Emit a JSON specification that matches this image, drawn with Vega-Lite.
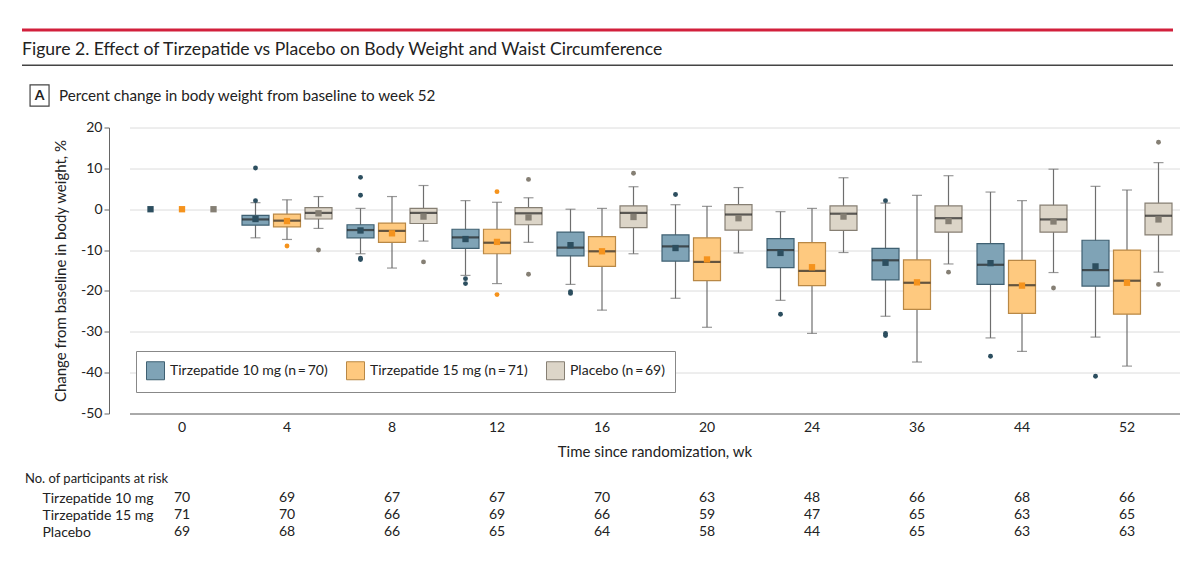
{
  "$schema": "https://vega.github.io/schema/vega-lite/v6.json",
  "background": "white",
  "padding": {"left": 20, "top": 27.5, "right": 10, "bottom": 10},
  "spacing": 13,
  "datasets": {
    "header": [
      {"figure": "Figure 2. Effect of Tirzepatide vs Placebo on Body Weight and Waist Circumference", "panel": "A", "caption": "Percent change in body weight from baseline to week 52"}
    ],
    "stats": [
      {"week": 0, "group": "Tirzepatide 10 mg", "lo": null, "q1": null, "median": null, "q3": null, "hi": null, "mean": 0},
      {"week": 0, "group": "Tirzepatide 15 mg", "lo": null, "q1": null, "median": null, "q3": null, "hi": null, "mean": 0},
      {"week": 0, "group": "Placebo", "lo": null, "q1": null, "median": null, "q3": null, "hi": null, "mean": 0},
      {"week": 4, "group": "Tirzepatide 10 mg", "lo": -7.0, "q1": -3.9, "median": -2.5, "q3": -1.5, "hi": 1.6, "mean": -2.4},
      {"week": 4, "group": "Tirzepatide 15 mg", "lo": -7.4, "q1": -4.3, "median": -2.8, "q3": -1.2, "hi": 2.3, "mean": -2.9},
      {"week": 4, "group": "Placebo", "lo": -4.7, "q1": -2.4, "median": -0.9, "q3": 0.4, "hi": 3.1, "mean": -1.0},
      {"week": 8, "group": "Tirzepatide 10 mg", "lo": -10.9, "q1": -7.0, "median": -5.1, "q3": -3.8, "hi": 0.2, "mean": -5.2},
      {"week": 8, "group": "Tirzepatide 15 mg", "lo": -14.4, "q1": -8.1, "median": -5.3, "q3": -3.4, "hi": 3.1, "mean": -5.9},
      {"week": 8, "group": "Placebo", "lo": -7.8, "q1": -3.5, "median": -0.9, "q3": 0.2, "hi": 5.8, "mean": -1.8},
      {"week": 12, "group": "Tirzepatide 10 mg", "lo": -16.2, "q1": -9.6, "median": -6.9, "q3": -4.9, "hi": 2.1, "mean": -7.3},
      {"week": 12, "group": "Tirzepatide 15 mg", "lo": -18.2, "q1": -10.9, "median": -8.2, "q3": -4.9, "hi": 1.7, "mean": -8.0},
      {"week": 12, "group": "Placebo", "lo": -8.1, "q1": -3.8, "median": -1.0, "q3": 0.4, "hi": 2.8, "mean": -2.0},
      {"week": 16, "group": "Tirzepatide 10 mg", "lo": -18.4, "q1": -11.4, "median": -9.4, "q3": -5.6, "hi": 0.0, "mean": -8.8},
      {"week": 16, "group": "Tirzepatide 15 mg", "lo": -24.7, "q1": -14.0, "median": -10.3, "q3": -6.7, "hi": 0.2, "mean": -10.3},
      {"week": 16, "group": "Placebo", "lo": -10.9, "q1": -4.5, "median": -0.9, "q3": 0.8, "hi": 5.5, "mean": -1.9},
      {"week": 20, "group": "Tirzepatide 10 mg", "lo": -21.8, "q1": -12.7, "median": -9.1, "q3": -6.3, "hi": 1.1, "mean": -9.5},
      {"week": 20, "group": "Tirzepatide 15 mg", "lo": -28.9, "q1": -17.5, "median": -12.9, "q3": -7.0, "hi": 0.7, "mean": -12.3},
      {"week": 20, "group": "Placebo", "lo": -10.7, "q1": -5.1, "median": -1.3, "q3": 1.1, "hi": 5.3, "mean": -2.2},
      {"week": 24, "group": "Tirzepatide 10 mg", "lo": -22.3, "q1": -14.3, "median": -10.0, "q3": -7.2, "hi": -0.6, "mean": -10.7},
      {"week": 24, "group": "Tirzepatide 15 mg", "lo": -30.4, "q1": -18.7, "median": -15.1, "q3": -8.2, "hi": 0.2, "mean": -14.2},
      {"week": 24, "group": "Placebo", "lo": -10.6, "q1": -5.2, "median": -1.1, "q3": 0.8, "hi": 7.7, "mean": -1.8},
      {"week": 36, "group": "Tirzepatide 10 mg", "lo": -26.2, "q1": -17.3, "median": -12.5, "q3": -9.6, "hi": 1.5, "mean": -13.1},
      {"week": 36, "group": "Tirzepatide 15 mg", "lo": -37.4, "q1": -24.5, "median": -18.0, "q3": -12.4, "hi": 3.4, "mean": -17.9},
      {"week": 36, "group": "Placebo", "lo": -13.4, "q1": -5.6, "median": -2.2, "q3": 0.8, "hi": 8.2, "mean": -2.9},
      {"week": 44, "group": "Tirzepatide 10 mg", "lo": -31.5, "q1": -18.4, "median": -13.6, "q3": -8.4, "hi": 4.2, "mean": -13.2},
      {"week": 44, "group": "Tirzepatide 15 mg", "lo": -34.8, "q1": -25.5, "median": -18.6, "q3": -12.5, "hi": 2.1, "mean": -18.7},
      {"week": 44, "group": "Placebo", "lo": -15.5, "q1": -5.6, "median": -2.5, "q3": 1.0, "hi": 9.8, "mean": -3.0},
      {"week": 52, "group": "Tirzepatide 10 mg", "lo": -31.3, "q1": -18.8, "median": -14.9, "q3": -7.6, "hi": 5.6, "mean": -14.0},
      {"week": 52, "group": "Tirzepatide 15 mg", "lo": -38.4, "q1": -25.7, "median": -17.5, "q3": -10.0, "hi": 4.7, "mean": -18.0},
      {"week": 52, "group": "Placebo", "lo": -15.4, "q1": -6.3, "median": -1.6, "q3": 1.5, "hi": 11.4, "mean": -2.5}
    ],
    "outliers": [
      {"week": 4, "group": "Tirzepatide 10 mg", "value": 10.1},
      {"week": 4, "group": "Tirzepatide 10 mg", "value": 2.1},
      {"week": 4, "group": "Tirzepatide 15 mg", "value": -9.0},
      {"week": 4, "group": "Placebo", "value": -10.0},
      {"week": 8, "group": "Tirzepatide 10 mg", "value": 7.8},
      {"week": 8, "group": "Tirzepatide 10 mg", "value": 3.4},
      {"week": 8, "group": "Tirzepatide 10 mg", "value": -12.0},
      {"week": 8, "group": "Tirzepatide 10 mg", "value": -12.3},
      {"week": 8, "group": "Placebo", "value": -12.9},
      {"week": 12, "group": "Tirzepatide 10 mg", "value": -17.0},
      {"week": 12, "group": "Tirzepatide 10 mg", "value": -18.2},
      {"week": 12, "group": "Tirzepatide 15 mg", "value": 4.3},
      {"week": 12, "group": "Tirzepatide 15 mg", "value": -20.9},
      {"week": 12, "group": "Placebo", "value": 7.3},
      {"week": 12, "group": "Placebo", "value": -15.9},
      {"week": 16, "group": "Tirzepatide 10 mg", "value": -20.2},
      {"week": 16, "group": "Tirzepatide 10 mg", "value": -20.6},
      {"week": 16, "group": "Placebo", "value": 8.8},
      {"week": 20, "group": "Tirzepatide 10 mg", "value": 3.6},
      {"week": 24, "group": "Tirzepatide 10 mg", "value": -25.7},
      {"week": 36, "group": "Tirzepatide 10 mg", "value": 2.1},
      {"week": 36, "group": "Tirzepatide 10 mg", "value": -30.4},
      {"week": 36, "group": "Tirzepatide 10 mg", "value": -30.9},
      {"week": 36, "group": "Placebo", "value": -15.4},
      {"week": 44, "group": "Tirzepatide 10 mg", "value": -36.0},
      {"week": 44, "group": "Placebo", "value": -19.3},
      {"week": 52, "group": "Tirzepatide 10 mg", "value": -40.9},
      {"week": 52, "group": "Placebo", "value": 16.4},
      {"week": 52, "group": "Placebo", "value": -18.4}
    ],
    "atrisk": [
      {"week": 0, "group": "Tirzepatide 10 mg", "n": 70},
      {"week": 4, "group": "Tirzepatide 10 mg", "n": 69},
      {"week": 8, "group": "Tirzepatide 10 mg", "n": 67},
      {"week": 12, "group": "Tirzepatide 10 mg", "n": 67},
      {"week": 16, "group": "Tirzepatide 10 mg", "n": 70},
      {"week": 20, "group": "Tirzepatide 10 mg", "n": 63},
      {"week": 24, "group": "Tirzepatide 10 mg", "n": 48},
      {"week": 36, "group": "Tirzepatide 10 mg", "n": 66},
      {"week": 44, "group": "Tirzepatide 10 mg", "n": 68},
      {"week": 52, "group": "Tirzepatide 10 mg", "n": 66},
      {"week": 0, "group": "Tirzepatide 15 mg", "n": 71},
      {"week": 4, "group": "Tirzepatide 15 mg", "n": 70},
      {"week": 8, "group": "Tirzepatide 15 mg", "n": 66},
      {"week": 12, "group": "Tirzepatide 15 mg", "n": 69},
      {"week": 16, "group": "Tirzepatide 15 mg", "n": 66},
      {"week": 20, "group": "Tirzepatide 15 mg", "n": 59},
      {"week": 24, "group": "Tirzepatide 15 mg", "n": 47},
      {"week": 36, "group": "Tirzepatide 15 mg", "n": 65},
      {"week": 44, "group": "Tirzepatide 15 mg", "n": 63},
      {"week": 52, "group": "Tirzepatide 15 mg", "n": 65},
      {"week": 0, "group": "Placebo", "n": 69},
      {"week": 4, "group": "Placebo", "n": 68},
      {"week": 8, "group": "Placebo", "n": 66},
      {"week": 12, "group": "Placebo", "n": 65},
      {"week": 16, "group": "Placebo", "n": 64},
      {"week": 20, "group": "Placebo", "n": 58},
      {"week": 24, "group": "Placebo", "n": 44},
      {"week": 36, "group": "Placebo", "n": 65},
      {"week": 44, "group": "Placebo", "n": 63},
      {"week": 52, "group": "Placebo", "n": 63}
    ]
  },
  "vconcat": [
    {
      "width": 1065,
      "height": 78,
      "data": {"name": "header"},
      "layer": [
        {
          "mark": {"type": "rule", "color": "#d2203c", "strokeWidth": 3},
          "encoding": {
            "x": {"datum": 0, "type": "quantitative", "scale": {"domain": [0, 100], "range": [-87, 1064]}, "axis": null},
            "x2": {"datum": 100},
            "y": {"datum": 1.9, "type": "quantitative", "scale": {"domain": [0, 100], "range": [0, 78]}, "axis": null}
          }
        },
        {
          "mark": {"type": "text", "align": "left", "baseline": "alphabetic", "fontSize": 17.6, "color": "#222"},
          "encoding": {
            "x": {"datum": 0, "type": "quantitative"},
            "y": {"datum": 34, "type": "quantitative"},
            "text": {"field": "figure"}
          }
        },
        {
          "mark": {"type": "rule", "color": "#444", "strokeWidth": 1.5},
          "encoding": {
            "x": {"datum": 0, "type": "quantitative"},
            "x2": {"datum": 100},
            "y": {"datum": 47.2, "type": "quantitative"}
          }
        },
        {
          "mark": {"type": "rect", "fill": "white", "stroke": "#444", "strokeWidth": 1.2},
          "encoding": {
            "x": {"datum": 0.7, "type": "quantitative"},
            "x2": {"datum": 2.35},
            "y": {"datum": 72.4, "type": "quantitative"},
            "y2": {"datum": 99.4}
          }
        },
        {
          "mark": {"type": "text", "align": "center", "baseline": "middle", "fontSize": 14, "fontWeight": "bold", "color": "#222"},
          "encoding": {
            "x": {"datum": 1.52, "type": "quantitative"},
            "y": {"datum": 86.5, "type": "quantitative"},
            "text": {"field": "panel"}
          }
        },
        {
          "mark": {"type": "text", "align": "left", "baseline": "middle", "fontSize": 15.2, "color": "#222"},
          "encoding": {
            "x": {"datum": 3.21, "type": "quantitative"},
            "y": {"datum": 86.5, "type": "quantitative"},
            "text": {"field": "caption"}
          }
        }
      ]
    },
    {
      "width": 1065,
      "height": 286,
      "encoding": {
        "x": {
          "field": "week",
          "type": "ordinal",
          "scale": {"domain": [0, 4, 8, 12, 16, 20, 24, 36, 44, 52], "range": [20.5, 1070.5], "paddingInner": 0.1, "paddingOuter": 0.05},
          "axis": {"title": "Time since randomization, wk", "ticks": false, "labelAngle": 0, "labelPadding": 7, "labelFontSize": 14, "titleFontSize": 15, "titlePadding": 10, "titleX": 545.5, "domainColor": "#666"}
        },
        "xOffset": {
          "field": "group",
          "type": "nominal",
          "scale": {"domain": ["Tirzepatide 10 mg", "Tirzepatide 15 mg", "Placebo"], "paddingInner": 0, "paddingOuter": 0}
        }
      },
      "layer": [
        {
          "data": {"name": "stats"},
          "transform": [{"filter": "isValid(datum.q1)"}],
          "mark": {"type": "rule", "color": "#6e6e6e", "strokeWidth": 1.2},
          "encoding": {
            "y": {
              "field": "lo",
              "type": "quantitative",
              "title": "Change from baseline in body weight, %",
              "scale": {"domain": [-50, 20], "nice": false, "zero": false},
              "axis": {"values": [-50, -40, -30, -20, -10, 0, 10, 20], "tickSize": 5, "tickColor": "#666", "domainColor": "#666", "gridColor": "#dcdcdc", "labelFontSize": 14, "labelPadding": 2, "titleFontSize": 15, "titlePadding": 12, "labelExpr": "replace(datum.label, '\u2212', '-')"}
            },
            "y2": {"field": "hi"}
          }
        },
        {
          "data": {"name": "stats"},
          "transform": [{"filter": "isValid(datum.q1)"}],
          "mark": {"type": "tick", "orient": "horizontal", "size": 10, "thickness": 1.2, "color": "#6e6e6e"},
          "encoding": {"y": {"field": "lo", "type": "quantitative", "title": "Change from baseline in body weight, %"}}
        },
        {
          "data": {"name": "stats"},
          "transform": [{"filter": "isValid(datum.q1)"}],
          "mark": {"type": "tick", "orient": "horizontal", "size": 10, "thickness": 1.2, "color": "#6e6e6e"},
          "encoding": {"y": {"field": "hi", "type": "quantitative", "title": "Change from baseline in body weight, %"}}
        },
        {
          "data": {"name": "stats"},
          "transform": [{"filter": "isValid(datum.q1)"}],
          "mark": {"type": "bar", "width": 27, "strokeWidth": 1.2},
          "encoding": {
            "y": {"field": "q1", "type": "quantitative", "title": "Change from baseline in body weight, %"},
            "y2": {"field": "q3"},
            "fill": {
              "field": "group",
              "type": "nominal",
              "scale": {"domain": ["Tirzepatide 10 mg", "Tirzepatide 15 mg", "Placebo"], "range": ["#7fa3b6", "#fec97f", "#dcd5c8"]},
              "legend": {
                "title": null,
                "orient": "none",
                "legendX": 27,
                "legendY": 322.5,
                "direction": "horizontal",
                "symbolType": "square",
                "symbolSize": 324,
                "symbolStrokeWidth": 1,
                "labelFontSize": 14,
                "labelLimit": 0,
                "labelColor": "#222",
                "labelOffset": 5,
                "columnPadding": 16,
                "padding": 10,
                "strokeColor": "#888",
                "fillColor": "white",
                "labelExpr": "datum.label == 'Placebo' ? 'Placebo (n\u2009=\u200969)' : datum.label == 'Tirzepatide 10 mg' ? 'Tirzepatide 10 mg (n\u2009=\u200970)' : 'Tirzepatide 15 mg (n\u2009=\u200971)'"
              }
            },
            "stroke": {
              "field": "group",
              "type": "nominal",
              "scale": {"domain": ["Tirzepatide 10 mg", "Tirzepatide 15 mg", "Placebo"], "range": ["#3f6072", "#b98845", "#867f73"]},
              "legend": {"title": null}
            }
          }
        },
        {
          "data": {"name": "stats"},
          "transform": [{"filter": "isValid(datum.q1)"}],
          "mark": {"type": "tick", "orient": "horizontal", "size": 27, "thickness": 2.2, "color": "#222"},
          "encoding": {"y": {"field": "median", "type": "quantitative", "title": "Change from baseline in body weight, %"}}
        },
        {
          "data": {"name": "stats"},
          "mark": {"type": "point", "shape": "square", "filled": true, "size": 40, "opacity": 1},
          "encoding": {
            "y": {"field": "mean", "type": "quantitative", "title": "Change from baseline in body weight, %"},
            "color": {
              "field": "group",
              "type": "nominal",
              "scale": {"domain": ["Tirzepatide 10 mg", "Tirzepatide 15 mg", "Placebo"], "range": ["#2c4e5f", "#f5931d", "#857f74"]},
              "legend": null
            }
          }
        },
        {
          "data": {"name": "outliers"},
          "mark": {"type": "circle", "size": 24, "opacity": 1},
          "encoding": {
            "y": {"field": "value", "type": "quantitative", "title": "Change from baseline in body weight, %"},
            "color": {"field": "group", "type": "nominal", "legend": null}
          }
        }
      ]
    },
    {
      "width": 1065,
      "height": 51,
      "data": {"name": "atrisk"},
      "title": {"text": "No. of participants at risk", "anchor": "start", "fontSize": 13, "fontWeight": "normal", "color": "#222", "dx": -17, "offset": 4},
      "mark": {"type": "text", "fontSize": 14, "color": "#222", "baseline": "middle"},
      "encoding": {
        "x": {
          "field": "week",
          "type": "ordinal",
          "scale": {"domain": [0, 4, 8, 12, 16, 20, 24, 36, 44, 52], "range": [20.5, 1070.5], "paddingInner": 0.1, "paddingOuter": 0.05},
          "axis": null
        },
        "y": {
          "field": "group",
          "type": "nominal",
          "scale": {"domain": ["Tirzepatide 10 mg", "Tirzepatide 15 mg", "Placebo"], "paddingInner": 0, "paddingOuter": 0},
          "axis": {"title": null, "domain": false, "ticks": false, "tickSize": 0, "grid": false, "labelAlign": "left", "labelPadding": 67, "labelFontSize": 14, "labelColor": "#222"}
        },
        "text": {"field": "n", "type": "quantitative"}
      }
    }
  ],
  "config": {
    "font": "Lato, sans-serif",
    "view": {"stroke": null},
    "axis": {"labelColor": "#222", "titleColor": "#222", "titleFontWeight": "normal", "labelFont": "Lato, sans-serif", "titleFont": "Lato, sans-serif"},
    "legend": {"labelFont": "Lato, sans-serif"},
    "text": {"font": "Lato, sans-serif"},
    "title": {"font": "Lato, sans-serif"}
  }
}
